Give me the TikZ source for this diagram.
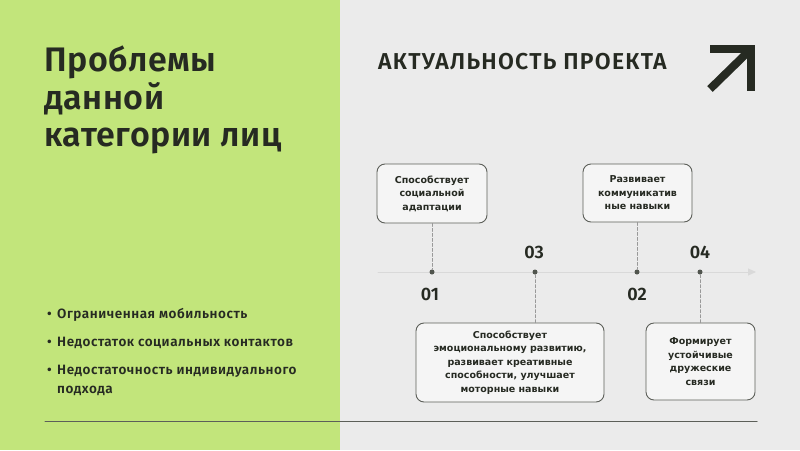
\documentclass[tikz,border=0pt]{standalone}
\usepackage{fontspec}
\setmainfont{Fira Sans}[BoldFont={Fira Sans SemiBold}]
\newfontfamily\cardfont{DejaVu Sans}
\usetikzlibrary{positioning,arrows.meta}
\definecolor{lime}{HTML}{C2E57B}
\definecolor{paper}{HTML}{EBEBEB}
\definecolor{ink}{HTML}{262A22}
\tikzset{
	card/.style={draw=ink!75,line width=0.9pt,rounded corners=8pt,fill=paper!50!white,align=center,text=ink,
		font=\cardfont\bfseries\fontsize{9.5}{13.5}\selectfont,inner sep=0pt},
	pin/.style={densely dashed,gray!80,line width=0.9pt},
	dot/.style={circle,fill=ink!80,inner sep=0pt,minimum size=5pt},
	num/.style={font=\bfseries\fontsize{18}{18}\selectfont,text=ink},
	item/.style={font=\bfseries\fontsize{13.5}{19}\selectfont\addfontfeatures{LetterSpace=4},text=ink,inner sep=0pt}
}
\begin{document}
\begin{tikzpicture}[x=1pt,y=-1pt,line join=round,line cap=round]
	\fill[paper] (0,0) rectangle (800,450);
	\fill[lime] (0,0) rectangle (340,450);
	\useasboundingbox (0,0) rectangle (800,450);
	\node[anchor=north west,align=left,inner sep=0pt,text=ink,font=\bfseries\fontsize{34}{37.5}\selectfont\addfontfeatures{LetterSpace=1.5}] (title) at (44,46) {Проблемы\\данной\\категории лиц};
	\node[anchor=base west,inner sep=0pt,text=ink,font=\bfseries\fontsize{23}{23}\selectfont\addfontfeatures{LetterSpace=5.5}] (head) at (378,69) {АКТУАЛЬНОСТЬ ПРОЕКТА};
	\draw[ink,line width=8pt,line cap=butt,line join=miter] (710,49) -- (751,49) -- (751,91);
	\draw[ink,line width=8pt,line cap=butt] (751,49) -- (710,89);
	% bullets
	\foreach \i/\y/\t in {1/318/{Ограниченная мобильность},2/346/{Недостаток социальных контактов},3/374/{Недостаточность индивидуального},4/393/{подхода}}
	\node[item,anchor=base west] (b\i) at (57,\y) {\t};
	\foreach \i in {1,2,3}
	\node[item,left=5pt of b\i.base west,anchor=base east] {\textbullet};
	% timeline
	\coordinate (t0) at (378,272);
	\coordinate (t1) at (756,272);
	\draw[gray!30,line width=1pt,-{Triangle[length=8pt,width=7pt]}] (t0) -- (t1);
	\foreach \n/\x in {d1/432,d3/535,d2/637,d4/700}
	\node[dot] (\n) at (\x,272) {};
	\node[num] (n1) at (430,294) {01};
	\node[num] (n3) at (534,252) {03};
	\node[num] (n2) at (637,294) {02};
	\node[num] (n4) at (700,252) {04};
	\node[card,minimum width=110pt,minimum height=59pt] (c1) at (432,193.5) {Способствует\\социальной\\адаптации};
	\node[card,minimum width=109pt,minimum height=58pt] (c2) at (637.5,193) {Развивает\\коммуникатив\\ные навыки};
	\node[card,minimum width=188pt,minimum height=79pt] (c3) at (510,362.5) {Способствует\\эмоциональному развитию,\\развивает креативные\\способности, улучшает\\моторные навыки};
	\node[card,minimum width=109pt,minimum height=77pt] (c4) at (700.5,361.5) {Формирует\\устойчивые\\дружеские\\связи};
	\draw[pin] (c1) -- (d1);
	\draw[pin] (c2.south -| d2) -- (d2);
	\draw[pin] (d3) -- (d3 |- c3.north);
	\draw[pin] (d4) -- (d4 |- c4.north);
	% rule
	\coordinate (r0) at (45,421);
	\coordinate (r1) at (757,421);
	\draw[ink!75,line width=1pt] (r0) -- (r1);
\end{tikzpicture}
\end{document}
